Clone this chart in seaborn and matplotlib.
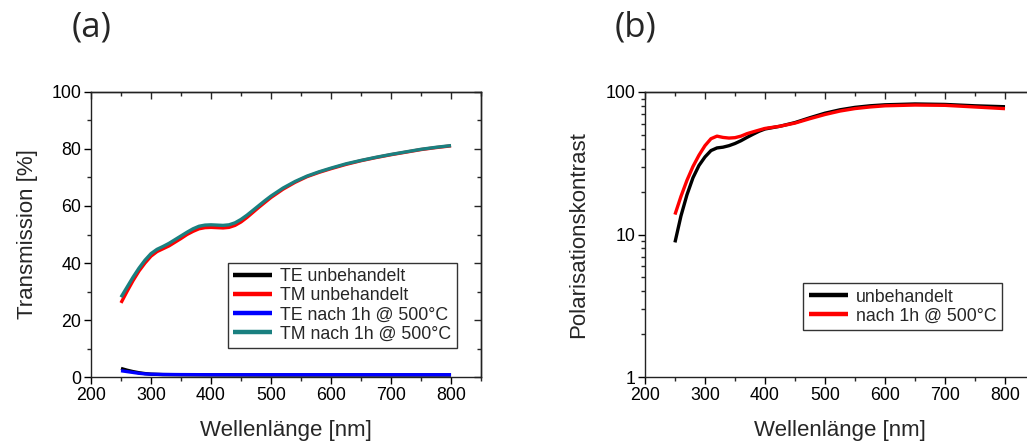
import matplotlib
matplotlib.use("Agg")
import matplotlib.pyplot as plt
import matplotlib.ticker as mticker
import seaborn as sns
import pandas as pd

# Transmission spectra (panel a)
wl_tm = [250, 260, 270, 280, 290, 300, 310, 320, 330, 340, 350, 360, 370, 380, 390,
         400, 410, 420, 430, 440, 450, 460, 470, 480, 490, 500, 520, 540, 560, 580,
         600, 625, 650, 675, 700, 725, 750, 775, 800]
tm_unbehandelt = [26.0, 30.0, 33.8, 37.2, 40.0, 42.4, 44.0, 45.0, 46.0, 47.3, 48.6, 50.0,
                  51.1, 52.0, 52.4, 52.5, 52.4, 52.3, 52.5, 53.2, 54.4, 56.0, 57.8, 59.6,
                  61.3, 63.0, 65.9, 68.3, 70.3, 71.8, 73.1, 74.6, 75.9, 77.0, 78.0, 78.9,
                  79.8, 80.5, 81.1]
tm_getempert = [28.0, 31.5, 35.0, 38.2, 41.0, 43.3, 44.8, 45.8, 46.9, 48.2, 49.5, 50.8,
                52.0, 52.9, 53.3, 53.4, 53.3, 53.2, 53.4, 54.1, 55.3, 56.8, 58.5, 60.2,
                61.9, 63.5, 66.3, 68.6, 70.5, 72.0, 73.3, 74.8, 76.0, 77.1, 78.1, 79.0,
                79.9, 80.6, 81.2]

wl_te = [250, 260, 270, 280, 290, 300, 320, 350, 400, 500, 600, 700, 800]
te_unbehandelt = [3.0, 2.4, 1.9, 1.5, 1.2, 1.0, 0.85, 0.8, 0.75, 0.7, 0.7, 0.7, 0.7]
te_getempert = [2.2, 1.9, 1.6, 1.3, 1.1, 1.0, 0.9, 0.85, 0.8, 0.8, 0.8, 0.8, 0.8]

# Polarisation contrast (panel b)
wl_pk = [250, 260, 270, 280, 290, 300, 310, 320, 330, 340, 350, 360, 370, 380, 390,
         400, 425, 450, 475, 500, 525, 550, 575, 600, 650, 700, 750, 800]
pk_unbehandelt = [8.8, 13.5, 19.0, 25.0, 30.5, 35.0, 38.8, 40.5, 41.0, 42.0, 43.5, 45.5,
                  48.0, 50.5, 53.0, 55.0, 57.5, 61.0, 66.0, 71.0, 75.0, 78.0, 80.0, 81.3,
                  82.4, 81.8, 80.0, 78.8]
pk_getempert = [13.8, 18.5, 24.0, 30.0, 36.0, 42.0, 47.0, 49.0, 48.0, 47.5, 47.8, 49.0,
                51.0, 52.5, 54.0, 55.5, 57.5, 60.5, 65.0, 69.5, 73.5, 76.5, 78.5, 80.0,
                81.0, 80.6, 78.5, 76.4]

x_ticks = [200, 300, 400, 500, 600, 700, 800]
y_ticks_a = [0, 20, 40, 60, 80, 100]
y_ticks_b = [1, 10, 100]

sns.set_theme(style="ticks")
plt.rcParams["font.family"] = ["Liberation Sans", "DejaVu Sans"]
plt.rcParams["axes.linewidth"] = 1.0

fig = plt.figure(figsize=(10.27, 4.41), dpi=100)
ax_a = fig.add_axes([0.0886, 0.1451, 0.3798, 0.6463])
ax_b = fig.add_axes([0.6280, 0.1451, 0.3798, 0.6463])

LW = 2.4
series_a = [
    (wl_te, te_unbehandelt, "black", "TE unbehandelt"),
    (wl_tm, tm_unbehandelt, "#ff0000", "TM unbehandelt"),
    (wl_te, te_getempert, "#0000ff", "TE nach 1h @ 500°C"),
    (wl_tm, tm_getempert, "#1a8080", "TM nach 1h @ 500°C"),
]
for x, y, c, lab in series_a:
    df = pd.DataFrame({"wl": x, "val": y})
    sns.lineplot(data=df, x="wl", y="val", ax=ax_a, color=c, lw=LW, label=lab,
                 solid_joinstyle="round", solid_capstyle="butt")

series_b = [
    (wl_pk, pk_unbehandelt, "black", "unbehandelt"),
    (wl_pk, pk_getempert, "#ff0000", "nach 1h @ 500°C"),
]
for x, y, c, lab in series_b:
    df = pd.DataFrame({"wl": x, "val": y})
    sns.lineplot(data=df, x="wl", y="val", ax=ax_b, color=c, lw=LW, label=lab,
                 solid_joinstyle="round", solid_capstyle="butt")

ax_b.set_yscale("log")

TICK_FS = 12.8
LABEL_FS = 16
for ax in (ax_a, ax_b):
    ax.set_xlim(200, 850)
    ax.set_xticks(x_ticks)
    ax.xaxis.set_minor_locator(mticker.MultipleLocator(50))
    ax.set_xlabel("Wellenlänge [nm]", labelpad=12, fontsize=LABEL_FS)
    ax.tick_params(which="major", direction="out", length=5, width=1,
                   labelsize=TICK_FS, pad=2, colors="black")
    ax.tick_params(which="minor", direction="out", length=3, width=1)
    for s in ax.spines.values():
        s.set_color("#222222")
        s.set_linewidth(1.0)

ax_a.set_ylim(0, 100)
ax_a.set_yticks(y_ticks_a)
ax_a.yaxis.set_minor_locator(mticker.MultipleLocator(10))
ax_a.set_ylabel("Transmission [%]", labelpad=10, fontsize=LABEL_FS)

ax_b.set_ylim(1, 100)
ax_b.yaxis.set_major_locator(mticker.FixedLocator(y_ticks_b))
ax_b.yaxis.set_major_formatter(mticker.FixedFormatter([str(v) for v in y_ticks_b]))
ax_b.yaxis.set_minor_locator(mticker.LogLocator(base=10, subs=range(2, 10)))
ax_b.yaxis.set_minor_formatter(mticker.NullFormatter())
ax_b.set_ylabel("Polarisationskontrast", labelpad=12, fontsize=LABEL_FS)

# Mirrored inward ticks on top and right
for ax in (ax_a, ax_b):
    top = ax.secondary_xaxis("top")
    top.set_xticks(x_ticks)
    top.xaxis.set_minor_locator(mticker.MultipleLocator(50))
    top.tick_params(which="major", direction="in", length=5, width=1, labeltop=False)
    top.tick_params(which="minor", direction="in", length=3, width=1)
    right = ax.secondary_yaxis("right")
    if ax is ax_a:
        right.set_yticks(y_ticks_a)
        right.yaxis.set_minor_locator(mticker.MultipleLocator(10))
    else:
        right.yaxis.set_major_locator(mticker.FixedLocator(y_ticks_b))
        right.yaxis.set_minor_locator(mticker.LogLocator(base=10, subs=range(2, 10)))
        right.yaxis.set_minor_formatter(mticker.NullFormatter())
    right.tick_params(which="major", direction="in", length=5, width=1, labelright=False)
    right.tick_params(which="minor", direction="in", length=3, width=1)

leg_kw = dict(frameon=True, fancybox=False, edgecolor="black", fontsize=TICK_FS,
              handlelength=2.2, handletextpad=0.45, borderpad=0.3, labelspacing=0.12,
              borderaxespad=0.0)
leg_a = ax_a.legend(loc="lower right", bbox_to_anchor=(0.938, 0.102), **leg_kw)
leg_b = ax_b.legend(loc="lower right", bbox_to_anchor=(0.915, 0.165), **leg_kw)
for leg in (leg_a, leg_b):
    leg.get_frame().set_linewidth(1.0)
    for line in leg.get_lines():
        line.set_linewidth(3.2)

panel_font = ["Open Sans", "DejaVu Sans"]
fig.text(92 / 1027, 1 - 27 / 441, "(a)", fontsize=25, family=panel_font,
         ha="center", va="center")
fig.text(636 / 1027, 1 - 27 / 441, "(b)", fontsize=25, family=panel_font,
         ha="center", va="center")

fig.savefig("out.png", dpi=100)
